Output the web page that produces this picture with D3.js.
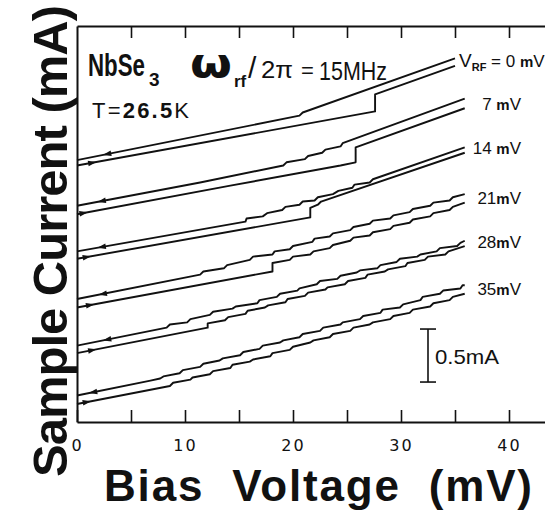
<!DOCTYPE html>
<html><head><meta charset="utf-8">
<script src="https://cdn.jsdelivr.net/npm/d3@7/dist/d3.min.js"></script>
<style>body{margin:0;background:#fff}svg{display:block}</style>
</head><body>
<svg id="c" width="545" height="513"></svg>
<script>
// ---- data (Bias voltage in mV, sample current in mA, curves offset as in the figure) ----
const rfAmplitudes = [0, 7, 14, 21, 28, 35];            // V_RF in mV
const xTickValues = [0, 5, 10, 15, 20, 25, 30, 35, 40, 45];
const xTickLabels = [0, 10, 20, 30, 40];
const scaleBarMA = 0.5;

const ret0mV = [[0,2.47],[20.6,2.89],[20.9,2.92],[35.0,3.43]];
const fwd0mV = [[0,2.42],[27.6,2.93],[27.6,3.09],[35.0,3.36]];
const ret7mV = [[0,2.04],[11.4,2.26],[19.1,2.42],[19.4,2.45],[21.1,2.48],[21.4,2.51],[22.7,2.54],[23.0,2.57],[24.4,2.60],[24.6,2.63],[35.9,3.05]];
const fwd7mV = [[0,1.96],[14.2,2.23],[24.4,2.42],[25.8,2.45],[25.8,2.59],[35.9,2.96]];
const ret14mV = [[0,1.61],[15.6,1.89],[15.7,1.92],[17.2,1.94],[17.6,1.97],[19.0,2.00],[19.3,2.03],[20.6,2.05],[20.9,2.08],[22.0,2.09],[22.3,2.12],[23.7,2.15],[24.2,2.18],[25.5,2.21],[25.7,2.24],[27.1,2.26],[27.4,2.29],[35.9,2.59]];
const fwd14mV = [[0,1.54],[21.6,1.93],[21.6,2.02],[22.3,2.05],[22.6,2.08],[35.9,2.54]];
const ret21mV = [[0,1.16],[11.4,1.39],[11.7,1.42],[13.6,1.45],[13.9,1.48],[16.0,1.53],[16.3,1.56],[18.1,1.58],[18.3,1.61],[19.7,1.63],[20.0,1.66],[21.8,1.70],[22.0,1.73],[23.4,1.75],[23.7,1.78],[25.3,1.81],[25.6,1.84],[27.1,1.87],[27.4,1.90],[29.0,1.92],[29.3,1.95],[30.8,1.98],[31.1,2.01],[32.7,2.04],[33.0,2.07],[34.5,2.09],[34.8,2.12],[35.9,2.15]];
const fwd21mV = [[0,1.08],[18.1,1.42],[18.1,1.50],[19.7,1.53],[20.0,1.56],[21.6,1.58],[21.9,1.61],[23.4,1.64],[23.7,1.67],[25.3,1.71],[25.6,1.74],[27.1,1.76],[27.4,1.79],[29.0,1.82],[29.3,1.85],[30.8,1.88],[31.1,1.91],[32.7,1.94],[33.0,1.97],[34.5,2.00],[34.8,2.03],[35.9,2.07]];
const ret28mV = [[0,0.72],[8.3,0.89],[8.6,0.92],[10.2,0.94],[10.5,0.97],[12.3,1.01],[12.6,1.04],[14.4,1.07],[14.7,1.09],[16.7,1.12],[16.9,1.15],[18.5,1.18],[18.8,1.21],[20.4,1.24],[20.6,1.26],[22.2,1.30],[22.5,1.33],[24.1,1.35],[24.4,1.38],[25.9,1.41],[26.2,1.43],[27.8,1.45],[28.1,1.48],[29.6,1.51],[29.9,1.54],[31.5,1.56],[31.8,1.58],[33.3,1.61],[33.6,1.64],[35.2,1.66],[35.5,1.69],[35.9,1.71]];
const fwd28mV = [[0,0.65],[12.1,0.89],[12.1,0.93],[13.7,0.96],[14.0,0.99],[15.6,1.02],[15.8,1.05],[17.4,1.08],[17.7,1.10],[19.3,1.13],[19.5,1.16],[21.1,1.19],[21.4,1.22],[23.0,1.25],[23.2,1.27],[24.8,1.30],[25.1,1.33],[26.7,1.36],[26.9,1.39],[28.5,1.42],[28.8,1.44],[30.4,1.47],[30.6,1.50],[32.2,1.53],[32.5,1.56],[34.1,1.58],[34.4,1.61],[35.9,1.66]];
const ret35mV = [[0,0.25],[6.8,0.39],[7.7,0.41],[8.0,0.43],[9.5,0.46],[9.8,0.49],[11.4,0.52],[11.7,0.55],[13.2,0.58],[13.5,0.60],[15.1,0.63],[15.4,0.66],[16.9,0.69],[17.2,0.72],[18.8,0.75],[19.1,0.77],[20.6,0.80],[20.9,0.83],[22.5,0.86],[22.8,0.89],[24.4,0.92],[24.6,0.94],[26.2,0.97],[26.5,1.00],[28.1,1.03],[28.3,1.06],[29.9,1.08],[30.2,1.11],[31.8,1.15],[32.0,1.18],[33.6,1.21],[33.9,1.24],[35.5,1.26],[35.7,1.29],[35.9,1.29]];
const fwd35mV = [[0,0.17],[8.6,0.34],[8.9,0.37],[10.5,0.40],[10.7,0.42],[12.3,0.45],[12.6,0.48],[14.2,0.51],[14.4,0.54],[16.0,0.57],[16.3,0.59],[17.9,0.62],[18.1,0.65],[19.7,0.68],[20.0,0.71],[21.6,0.75],[21.9,0.77],[23.4,0.80],[23.7,0.83],[25.3,0.86],[25.6,0.89],[27.1,0.92],[27.4,0.94],[29.0,0.97],[29.3,1.00],[30.8,1.03],[31.1,1.06],[32.7,1.09],[33.0,1.12],[34.5,1.15],[34.8,1.18],[35.9,1.21]];

const returnSweeps = [ret0mV, ret7mV, ret14mV, ret21mV, ret28mV, ret35mV];
const forwardSweeps = [fwd0mV, fwd7mV, fwd14mV, fwd21mV, fwd28mV, fwd35mV];
const returnArrowV = [2.8, 2.3, 2.3, 2.4, 2.8, 1.5];
const forwardArrowV = [1.4, 0.6, 0.9, 1.2, 1.4, 0.9];

// ---- layout ----
const svg = d3.select("#c");
const x = d3.scaleLinear().domain([0, 45]).range([77, 563]);
const y = d3.scaleLinear().domain([0, 3.736]).range([422, 26]);
const ink = "#111";

// axes
const gB = svg.append("g").attr("transform", "translate(0,422)")
  .call(d3.axisBottom(x).tickValues(xTickValues).tickSize(-12).tickSizeOuter(0).tickPadding(18)
    .tickFormat(d => xTickLabels.includes(d) ? d : ""));
const gT = svg.append("g").attr("transform", "translate(0,26)")
  .call(d3.axisTop(x).tickValues(xTickValues.filter(d => d > 0)).tickSize(-12).tickSizeOuter(0).tickFormat(""));
const gL = svg.append("g").attr("transform", "translate(77,0)")
  .call(d3.axisLeft(y).tickValues([]).tickSizeOuter(0));
[gB, gT, gL].forEach(g => {
  g.selectAll("path.domain").attr("stroke", ink).attr("stroke-width", 2);
  g.selectAll(".tick line").attr("stroke", ink).attr("stroke-width", 1.6);
});
gB.selectAll(".tick text").attr("font-family", "'DejaVu Sans', sans-serif").attr("font-size", 16)
  .attr("fill", ink).attr("letter-spacing", 2);

// curves
const line = d3.line().x(d => x(d[0])).y(d => y(d[1]));
const curves = svg.append("g").attr("fill", "none").attr("stroke", ink).attr("stroke-width", 1.9)
  .attr("stroke-linejoin", "round");
returnSweeps.forEach(s => curves.append("path").attr("d", line(s)));
forwardSweeps.forEach(s => curves.append("path").attr("d", line(s)));

// arrowheads on the initial straight segment of each branch
function arrow(series, v, dir) {
  const p0 = series[0], p1 = series[1];
  const t = (v - p0[0]) / (p1[0] - p0[0]);
  const vy = p0[1] + t * (p1[1] - p0[1]);
  const ang = Math.atan2(y(p1[1]) - y(p0[1]), x(p1[0]) - x(p0[0])) * 180 / Math.PI + (dir < 0 ? 180 : 0);
  svg.append("path").attr("d", "M4.5,0L-4,-2.8L-4,2.8Z").attr("fill", ink)
    .attr("transform", `translate(${x(v)},${y(vy)}) rotate(${ang})`);
}
returnSweeps.forEach((s, i) => arrow(s, returnArrowV[i], -1));
forwardSweeps.forEach((s, i) => arrow(s, forwardArrowV[i], 1));

// V_RF labels at the right end of each pair
const lab = svg.append("g").attr("font-family", "'Liberation Sans', Arial, sans-serif").attr("fill", ink);
rfAmplitudes.forEach((a, i) => {
  const last = forwardSweeps[i][forwardSweeps[i].length - 1];
  const ty = y(last[1]) + 1.5;
  if (i === 0) {
    const t = lab.append("text").attr("x", x(last[0]) + 4).attr("y", ty).attr("font-size", 19);
    t.append("tspan").text("V");
    t.append("tspan").attr("font-size", 11).attr("font-weight", "bold").attr("dy", 4).text("RF");
    t.append("tspan").attr("dy", -4).attr("font-size", 17).text(" = " + a + " ");
    t.append("tspan").attr("font-size", 15).attr("font-weight", "bold").text("m");
    t.append("tspan").attr("font-size", 17).text("V");
  } else {
    const t = lab.append("text").attr("x", 521).attr("y", ty).attr("text-anchor", "end").attr("font-size", 17);
    t.append("tspan").text(a + (a < 21 ? " " : ""));
    t.append("tspan").attr("font-size", 15).attr("font-weight", "bold").text("m");
    t.append("tspan").text("V");
  }
});

// 0.5 mA scale bar
const sbV = 32.5, sbI0 = 0.377;
const sb = svg.append("g").attr("stroke", ink).attr("stroke-width", 1.6);
sb.append("line").attr("x1", x(sbV)).attr("x2", x(sbV)).attr("y1", y(sbI0)).attr("y2", y(sbI0 + scaleBarMA));
[sbI0, sbI0 + scaleBarMA].forEach(v => sb.append("line").attr("x1", x(sbV) - 8).attr("x2", x(sbV) + 8)
  .attr("y1", y(v)).attr("y2", y(v)));
svg.append("text").attr("x", x(sbV) + 7).attr("y", y(sbI0 + scaleBarMA / 2) + 8)
  .attr("font-family", "'Liberation Sans', Arial, sans-serif").attr("font-size", 21).attr("fill", ink)
  .attr("textLength", 64).attr("lengthAdjust", "spacingAndGlyphs").text(scaleBarMA + "mA");

// annotations
const ann = svg.append("g").attr("fill", ink).attr("font-family", "'Liberation Sans', Arial, sans-serif");
ann.append("text").attr("transform", "translate(88,76) scale(0.72,1)").attr("font-size", 31).attr("font-weight", "bold")
  .text("NbSe");
ann.append("text").attr("x", 149).attr("y", 86).attr("font-size", 19).attr("font-weight", "bold").text("3");
ann.append("text").attr("x", 190).attr("y", 77).attr("font-size", 40).attr("font-weight", "bold")
  .attr("font-family", "'DejaVu Sans', sans-serif").attr("textLength", 42).attr("lengthAdjust", "spacingAndGlyphs").text("ω");
ann.append("text").attr("x", 234).attr("y", 87).attr("font-size", 17).attr("font-weight", "bold").text("rf");
ann.append("text").attr("x", 248).attr("y", 78).attr("font-size", 30).text("/");
ann.append("text").attr("x", 261).attr("y", 78).attr("font-size", 24)
  .attr("textLength", 32).attr("lengthAdjust", "spacingAndGlyphs").text("2π");
ann.append("text").attr("x", 301).attr("y", 78).attr("font-size", 22).text("=");
ann.append("text").attr("x", 319).attr("y", 80).attr("font-size", 25)
  .attr("textLength", 68).attr("lengthAdjust", "spacingAndGlyphs").text("15MHz");
const tt = ann.append("text").attr("x", 92).attr("y", 118).attr("font-size", 22)
  .attr("textLength", 97).attr("lengthAdjust", "spacing");
tt.append("tspan").text("T=");
tt.append("tspan").attr("font-weight", "bold").text("26.5");
tt.append("tspan").text("K");

// axis titles
svg.append("text").attr("x", 104).attr("y", 501).attr("font-family", "'Liberation Sans', Arial, sans-serif")
  .attr("font-weight", "bold").attr("font-size", 44).attr("fill", ink)
  .attr("textLength", 428).attr("lengthAdjust", "spacing").attr("xml:space", "preserve").text("Bias  Voltage  (mV)");
svg.append("text").attr("transform", "translate(67,477) rotate(-90)")
  .attr("font-family", "'Liberation Sans', Arial, sans-serif")
  .attr("font-weight", "bold").attr("font-size", 49).attr("fill", ink)
  .attr("textLength", 472).attr("lengthAdjust", "spacing").text("Sample  Current  (mA)");
</script>
</body></html>
